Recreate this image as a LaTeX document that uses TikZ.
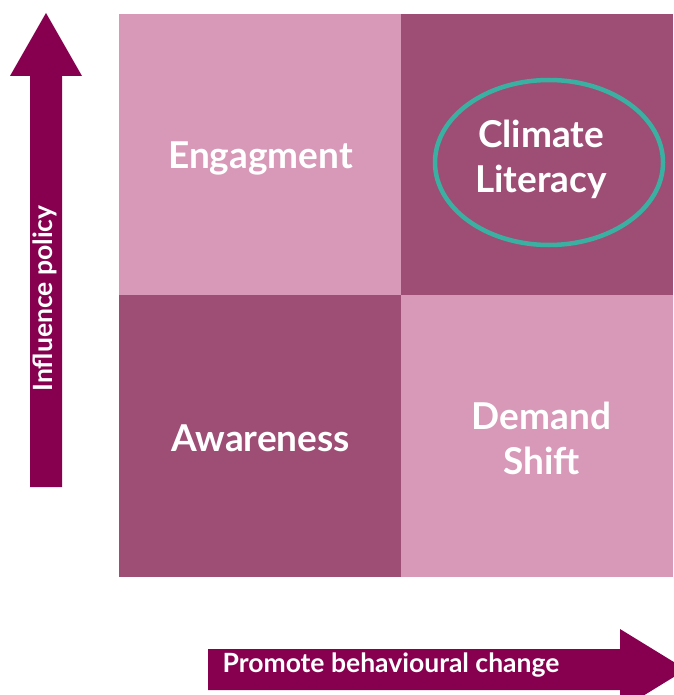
\documentclass[tikz,border=0pt]{standalone}
\usepackage{fontspec}
\setmainfont{Lato}
\usetikzlibrary{shapes.geometric}
\definecolor{lightrose}{HTML}{D799B7}
\definecolor{darkrose}{HTML}{9E4E75}
\definecolor{plum}{HTML}{86004F}
\definecolor{teal}{HTML}{3AB0A2}
\tikzset{
  quadtext/.style={text=white,font=\bfseries\fontsize{37}{45}\selectfont,align=center},
  axistext/.style={text=white,font=\bfseries\fontsize{26.5}{30}\selectfont}
}
\begin{document}
\begin{tikzpicture}[x=1pt,y=-1pt]
            \useasboundingbox (0,0) rectangle (673,695);

            % quadrants
            \fill[lightrose] (119,14) rectangle (401,295);
            \fill[darkrose]  (401,14) rectangle (673,295);
            \fill[darkrose]  (119,295) rectangle (401,577);
            \fill[lightrose] (401,295) rectangle (673,577);

            \node[quadtext,anchor=base]
            	(engage) 	at (260.5,168) {Engagment};
            \node[quadtext]
            	(climate) 	at (541,159.5) {Climate\\Literacy};
            \node[quadtext,anchor=base]
            	(aware) 	at (260.5,451) {Awareness};
            \node[quadtext]
            	(demand) 	at (541.5,438) {Demand\\Shift};
            \node[ellipse,draw=teal,line width=4.5pt,minimum width=228pt,minimum height=165pt]
            	(ring) 		at (549,162.5) {};

            % axes
            \fill[plum] (30,487) -- (30,76) -- (10,76) -- (46,13) -- (82,76)
            	-- (62,76) -- (62,487) -- cycle;
            \fill[plum] (208,649) -- (620,649) -- (620,629) -- (686,669.5)
            	-- (620,710) -- (620,690) -- (208,690) -- cycle;
            \node[axistext,rotate=90,anchor=base]
            	(policy) 	at (52,298.5) {Influence policy};
            \node[axistext,anchor=base]
            	(change) 	at (391,672) {Promote behavioural change};
        \end{tikzpicture}
\end{document}
